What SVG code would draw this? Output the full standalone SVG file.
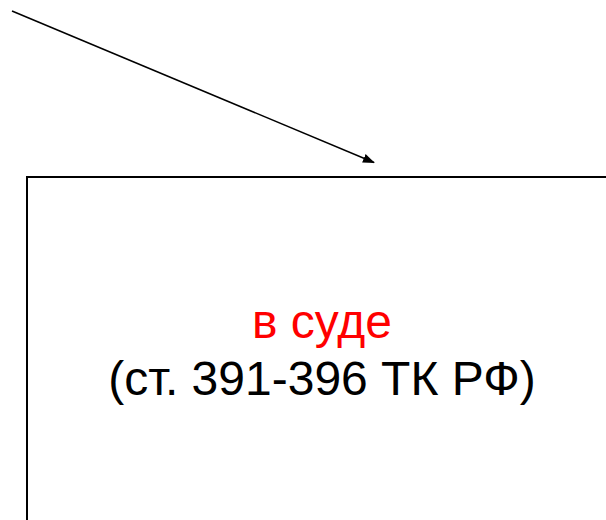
<svg xmlns="http://www.w3.org/2000/svg" width="606" height="520" viewBox="0 0 606 520">
<style>
.t{font-family:"Liberation Sans",Arial,sans-serif;font-size:48px;text-anchor:middle}
</style>
<defs>
<marker id="ah" markerWidth="12" markerHeight="9" refX="11" refY="4.5" orient="auto" markerUnits="userSpaceOnUse">
<path d="M0,0 L12,4.5 L0,9 Z" fill="#000"/>
</marker>
</defs>
<rect width="606" height="520" fill="#fff"/>
<g id="connectors">
<line x1="12" y1="11" x2="374" y2="162.5" stroke="#000" stroke-width="1.5" marker-end="url(#ah)"/>
</g>
<g id="node-court">
<path d="M27,520 V177 H606" fill="none" stroke="#000" stroke-width="2"/>
<text class="t" x="322" y="338" fill="#f00">в суде</text>
<text class="t" x="322" y="395" fill="#000">(ст. 391-396 ТК РФ)</text>
</g>
</svg>
